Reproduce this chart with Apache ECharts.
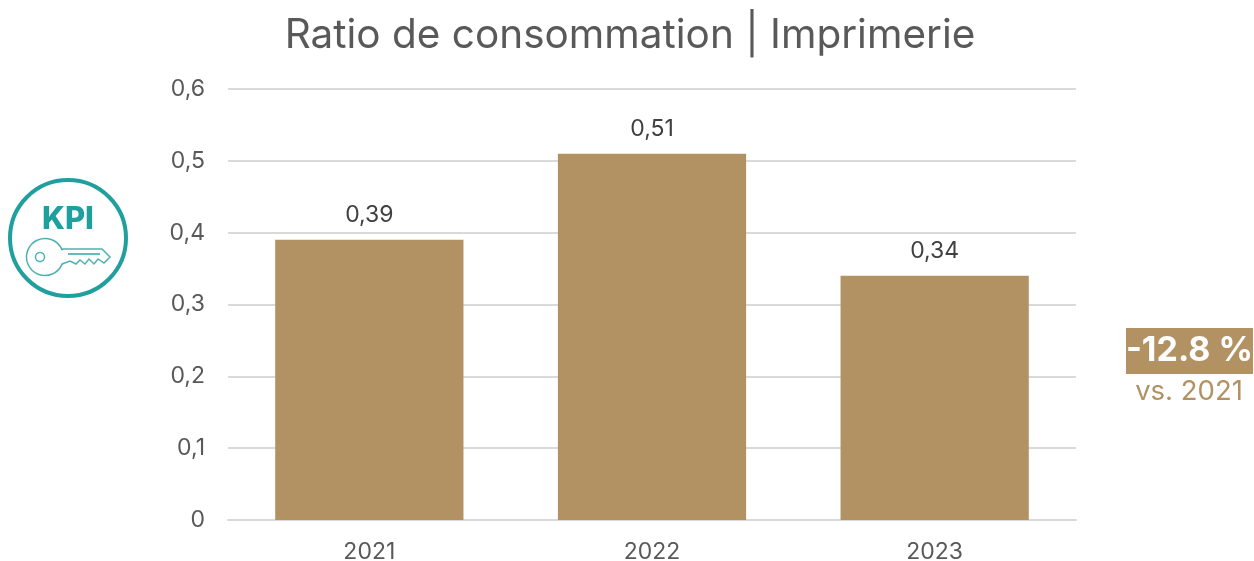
<!DOCTYPE html>
<html>
<head>
<meta charset="utf-8">
<style>
  html, body { margin: 0; padding: 0; background: #fff; }
  #main { width: 1254px; height: 561px; }
</style>
<script src="https://cdn.jsdelivr.net/npm/echarts@6/dist/echarts.min.js"></script>
</head>
<body>
<div id="main"></div>
<script>
  const categories = ['2021', '2022', '2023']
  const values = [0.39, 0.51, 0.34]
  const yTicks = ['0', '0,1', '0,2', '0,3', '0,4', '0,5', '0,6']
  const titleText = 'Ratio de consommation | Imprimerie'
  const deltaText = '-12.8 %'
  const deltaSub = 'vs. 2021'

  const font = 'Inter, "Open Sans", sans-serif'
  const gold = '#b29263'
  const teal = '#1f9f9e'

  const chart = echarts.init(document.getElementById('main'))
  chart.setOption({
    animation: false,
    backgroundColor: '#fff',
    title: {
      text: titleText,
      left: 625,
      top: 10,
      textAlign: 'center',
      textStyle: { fontFamily: font, fontSize: 40.5, fontWeight: 400, color: '#595959' }
    },
    grid: { left: 228, right: 178, top: 89, bottom: 41, outerBoundsMode: 'none' },
    xAxis: {
      type: 'category',
      data: categories,
      axisLine: { lineStyle: { color: '#d9d9d9', width: 2 } },
      axisTick: { show: false },
      axisLabel: { fontFamily: font, fontSize: 23, color: '#595959', margin: 21 }
    },
    yAxis: {
      type: 'value',
      min: 0,
      max: 0.6,
      interval: 0.1,
      axisLine: { show: false },
      axisTick: { show: false },
      splitLine: { lineStyle: { color: '#d9d9d9', width: 2 } },
      axisLabel: {
        fontFamily: font,
        fontSize: 23,
        color: '#595959',
        margin: 23,
        formatter: (v) => yTicks[Math.round(v * 10)]
      }
    },
    series: [{
      type: 'bar',
      data: values,
      barWidth: '66.6%',
      itemStyle: { color: gold },
      label: {
        show: true,
        position: 'top',
        distance: 13,
        fontFamily: font,
        fontSize: 23,
        color: '#404040',
        formatter: (p) => String(p.value).replace('.', ',')
      }
    }],
    graphic: [
      // KPI badge
      { type: 'circle', shape: { cx: 68, cy: 238, r: 58 }, style: { fill: '#fff', stroke: teal, lineWidth: 4 } },
      { type: 'text', style: { x: 68, y: 220, text: 'KPI', align: 'center', verticalAlign: 'middle', fill: teal, font: '800 31px ' + font } },
      { type: 'arc', shape: { cx: 45, cy: 257, r: 18.5, startAngle: 0.38, endAngle: 5.9, clockwise: true }, style: { fill: 'none', stroke: teal, lineWidth: 1.5, opacity: 0.8 } },
      { type: 'polyline', shape: { points: [[62, 250], [63, 249], [102, 249], [110, 257], [104, 263], [98, 259], [94, 264], [89, 259], [85, 264], [80, 260], [76, 264], [70, 261], [62, 264]] }, style: { fill: 'none', stroke: teal, lineWidth: 1.5, opacity: 0.8 } },
      { type: 'circle', shape: { cx: 40, cy: 257, r: 4.5 }, style: { fill: 'none', stroke: teal, lineWidth: 1.5, opacity: 0.8 } },
      { type: 'line', shape: { x1: 68, y1: 254, x2: 100, y2: 254 }, style: { stroke: teal, lineWidth: 2, opacity: 0.7 } },
      // variation vs 2021
      { type: 'rect', shape: { x: 1126, y: 328, width: 127, height: 46 }, style: { fill: gold } },
      { type: 'text', style: { x: 1189.5, y: 351, text: deltaText, align: 'center', verticalAlign: 'middle', fill: '#fff', font: '700 34px ' + font } },
      { type: 'text', style: { x: 1189, y: 392, text: deltaSub, align: 'center', verticalAlign: 'middle', fill: gold, font: '400 27.5px ' + font } }
    ]
  })
</script>
</body>
</html>
